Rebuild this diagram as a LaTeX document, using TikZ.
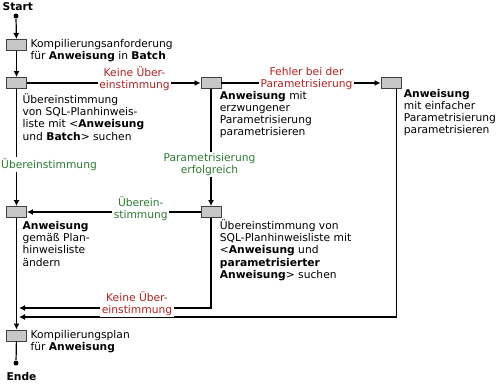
\documentclass[tikz,border=0pt]{standalone}
\usepackage{fontspec}
\setmainfont{DejaVu Sans}
\usetikzlibrary{arrows.meta}
\definecolor{nomatch}{RGB}{178,34,34}
\definecolor{okmatch}{RGB}{46,125,50}

\begin{document}
\begin{tikzpicture}[x=1pt, y=-1pt, line width=1.2pt,
  stepbox/.style={rectangle, draw=black!75, fill=black!22, line width=0.9pt, minimum width=20pt, minimum height=11pt, inner sep=0pt},
  txt/.style={anchor=base west, align=left, inner sep=0pt, font=\fontsize{10.7}{12.2}\selectfont},
  nolbl/.style={anchor=base, align=center, inner sep=1.5pt, fill=white, text=nomatch, font=\fontsize{10.7}{12}\selectfont},
  oklbl/.style={anchor=base, align=center, inner sep=1.5pt, fill=white, text=okmatch, font=\fontsize{10.7}{12}\selectfont},
  dot/.style={circle, fill=black, inner sep=0pt, minimum size=5pt},
  flow/.style={-{Latex[length=6pt, width=6pt]}}
]
\useasboundingbox (0,0) rectangle (502,383);

% steps
\node[txt] (start) at (2,10) {\textbf{Start}};
\node[dot] (s) at (16,16) {};
\node[stepbox] (b1) at (16.5,45) {};
\node[stepbox] (b2) at (16.5,83) {};
\node[stepbox] (b3) at (211,83) {};
\node[stepbox] (b4) at (391,83) {};
\node[stepbox] (b5) at (16.5,212) {};
\node[stepbox] (b6) at (211,212) {};
\node[stepbox] (b7) at (16.5,335.5) {};
\node[dot] (e) at (16,363) {};
\node[txt] (ende) at (6,380) {\textbf{Ende}};
\coordinate (j1) at (19,308);
\coordinate (j2) at (19,317);

% texts (anchored at the baseline of the last line)
\node[txt] (t1) at (30,59.2) {Kompilierungsanforderung\\für \textbf{Anweisung} in \textbf{Batch}};
\node[txt] (t2) at (22,140.1) {Übereinstimmung\\von SQL-Planhinweis-\\liste mit <\textbf{Anweisung}\\und \textbf{Batch}> suchen};
\node[txt] (t3) at (219.3,135.6) {\textbf{Anweisung} mit\\erzwungener\\Parametrisierung\\parametrisieren};
\node[txt] (t4) at (403.3,133.6) {\textbf{Anweisung}\\mit einfacher\\Parametrisierung\\parametrisieren};
\node[txt] (t5) at (22,266.1) {\textbf{Anweisung}\\gemäß Plan-\\hinweisliste\\ändern};
\node[txt] (t6) at (219.3,278.3) {Übereinstimmung von\\SQL-Planhinweisliste mit\\<\textbf{Anweisung} und\\\textbf{parametrisierter}\\\textbf{Anweisung}> suchen};
\node[txt] (t7) at (30,350.5) {Kompilierungsplan\\für \textbf{Anweisung}};

% connectors
\draw[flow] (s) -- (b1);
\draw[flow] (b1) -- (b2);
\draw[flow] (b2) -- (b3);
\draw[flow] (b3) -- (b4);
\draw[flow] (b2) -- (b5);
\draw[flow] (b3) -- (b6);
\draw[flow] (b6) -- (b5);
\draw[flow] (b5) -- (b7);
\draw[flow] (b6) |- (j1);
\draw[flow] ([xshift=5.3pt]b4.south) |- (j2);
\draw (b7) -- (e);

% labels
\node[nolbl] (l1) at (134.5,88) {Keine Über-\\einstimmung};
\node[nolbl] (l2) at (306.5,87) {Fehler bei der\\Parametrisierung};
\node[oklbl] (l3) at (49,168) {Übereinstimmung};
\node[oklbl] (l4) at (209.5,173.5) {Parametrisierung\\erfolgreich};
\node[oklbl] (l5) at (140.8,218.5) {Überein-\\stimmung};
\node[nolbl] (l6) at (137,313) {Keine Über-\\einstimmung};
\end{tikzpicture}
\end{document}
